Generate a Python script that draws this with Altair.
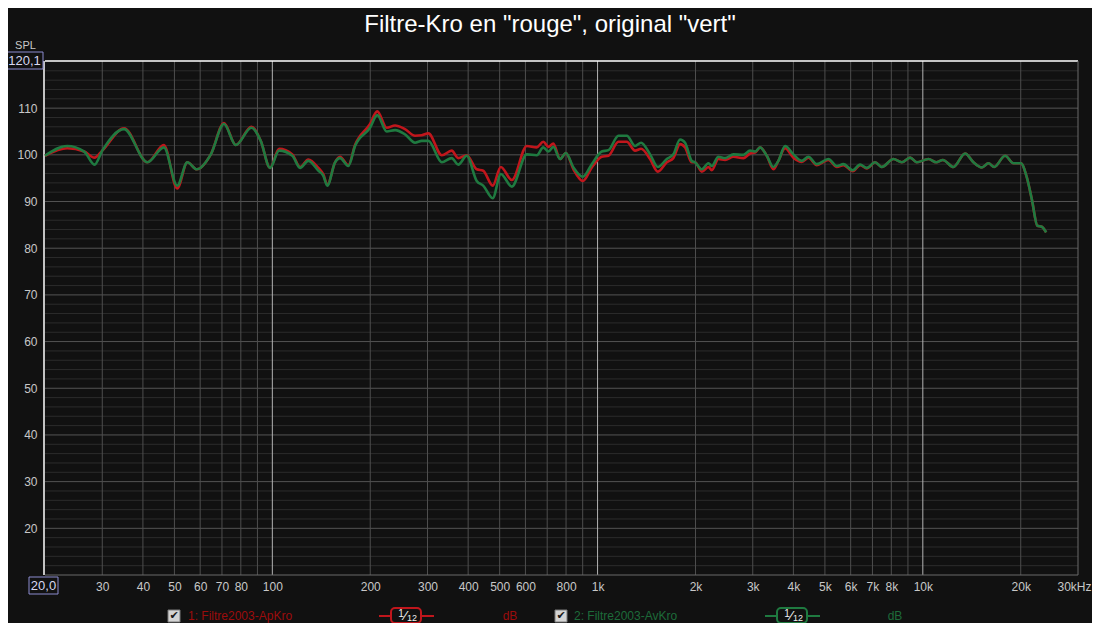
import altair as alt
import pandas as pd

# ---------------- data ----------------
freqs = [20, 23.4, 26.4, 28.4, 30.0, 35.0, 41.3, 46.4, 51.0, 54.8, 58.6, 64.7, 71.0, 77.2, 86.2, 92.1,
         98.4, 104.9, 115.2, 121.7, 129, 138.5, 143.5, 147.6, 155.9, 161.5, 171.3, 179.6, 199.7, 210.2,
         224.7, 238.4, 255.8, 274.6, 288, 301.8, 332, 356, 373, 396, 425, 445, 476, 504, 545, 606, 650,
         681, 706, 731, 767, 799, 843, 901, 960, 1030, 1080, 1159, 1230, 1304, 1361, 1450, 1532, 1632,
         1710, 1793, 1858, 1948, 1994, 2092, 2192, 2245, 2352, 2466, 2616, 2808, 2944, 3051, 3160, 3314,
         3472, 3597, 3772, 4000, 4246, 4450, 4722, 5126, 5440, 5700, 6090, 6414, 6726, 7134, 7480, 8122,
         8618, 9138, 9584, 10406, 10990, 11524, 12422, 13490, 14310, 15190, 15914, 16568, 17908, 18992,
         20014, 20878, 21632, 22506, 23220, 23940]

green_spl = [99.8, 101.9, 100.7, 97.9, 100.9, 105.5, 98.4, 101.6, 93.4, 98.4, 96.9, 100.1, 106.6, 102.1,
             105.8, 103.0, 97.2, 100.9, 99.8, 97.2, 98.7, 96.6, 95.5, 93.4, 98.4, 99.3, 97.6, 101.9, 105.8,
             108.5, 105.0, 105.3, 104.4, 102.6, 103.0, 103.0, 98.4, 99.3, 97.9, 99.8, 94.4, 93.4, 90.7,
             95.9, 93.2, 100.1, 99.9, 101.6, 100.7, 101.7, 99.1, 100.4, 97.3, 95.3, 98.0, 100.7, 101.0,
             104.1, 104.1, 101.9, 102.6, 100.1, 97.4, 99.1, 100.1, 103.3, 102.6, 98.7, 98.4, 96.9, 98.2,
             97.6, 99.6, 99.3, 100.1, 100.0, 100.9, 100.7, 101.6, 99.8, 97.4, 98.7, 101.9, 100.1, 98.7,
             99.6, 98.0, 99.1, 97.6, 98.0, 96.7, 97.9, 97.2, 98.4, 97.4, 99.1, 98.4, 99.4, 98.4, 99.1,
             98.4, 98.9, 97.4, 100.3, 98.4, 97.3, 98.2, 97.4, 99.8, 98.2, 98.2, 95.2, 90.5, 84.8, 84.6, 83.4]

red_spl = [99.8, 101.4, 100.7, 99.4, 100.9, 105.7, 98.4, 102.1, 92.8, 98.4, 96.9, 100.1, 106.8, 102.1,
           106.0, 103.0, 97.2, 101.3, 100.1, 97.4, 99.0, 97.2, 95.8, 93.6, 98.4, 99.6, 97.8, 102.1, 106.6,
           109.3, 105.8, 106.3, 105.5, 104.1, 104.2, 104.6, 99.9, 100.9, 99.3, 99.9, 96.9, 96.6, 93.4,
           97.4, 94.6, 101.9, 101.6, 102.8, 101.7, 102.4, 99.1, 100.4, 96.9, 94.4, 97.3, 99.6, 99.8,
           102.8, 102.8, 100.9, 101.3, 99.1, 96.4, 98.4, 99.3, 102.3, 101.6, 98.4, 98.4, 96.4, 97.4,
           96.7, 99.1, 98.9, 99.6, 99.3, 100.3, 100.5, 101.6, 99.8, 96.9, 98.7, 101.4, 99.4, 98.5,
           99.4, 97.8, 98.9, 97.4, 97.8, 96.5, 97.8, 97.1, 98.4, 97.4, 99.1, 98.4, 99.4, 98.4, 99.1,
           98.4, 98.9, 97.4, 100.3, 98.4, 97.3, 98.2, 97.4, 99.8, 98.2, 98.2, 95.2, 90.5, 84.8, 84.6, 83.4]

series_names = ["1: Filtre2003-ApKro", "2: Filtre2003-AvKro"]
series_colors = ["#c0161c", "#1f7a40"]
legend_text_colors = ["#9c0c0c", "#1d6b3a"]

x_tick_values = [30, 40, 50, 60, 70, 80, 100, 200, 300, 400, 500, 600, 800, 1000, 2000, 3000, 4000,
                 5000, 6000, 7000, 8000, 10000, 20000, 30000]
x_tick_labels = ["30", "40", "50", "60", "70", "80", "100", "200", "300", "400", "500", "600", "800",
                 "1k", "2k", "3k", "4k", "5k", "6k", "7k", "8k", "10k", "20k", "30kHz"]
y_tick_values = [20, 30, 40, 50, 60, 70, 80, 90, 100, 110]

x_major_grid = [100, 1000, 10000]
x_minor_grid = [30, 40, 50, 60, 70, 80, 90, 200, 300, 400, 500, 600, 700, 800, 900,
                2000, 3000, 4000, 5000, 6000, 7000, 8000, 9000, 20000]
y_major_grid = [20, 30, 40, 50, 60, 70, 80, 90, 100, 110]
y_minor_grid = [12, 14, 16, 18, 22, 24, 26, 28, 32, 34, 36, 38, 42, 44, 46, 48, 52, 54, 56, 58,
                62, 64, 66, 68, 72, 74, 76, 78, 82, 84, 86, 88, 92, 94, 96, 98, 102, 104, 106, 108,
                112, 114, 116, 118]

x_domain = [20, 30000]
y_domain = [10, 120.1]

# ---------------- frames ----------------
curves = pd.DataFrame({
    "freq": freqs * 2,
    "spl": red_spl + green_spl,
    "series": [series_names[0]] * len(freqs) + [series_names[1]] * len(freqs),
    "order": [0] * len(freqs) + [1] * len(freqs),
})
dummy = pd.DataFrame({"a": [0]})

W, H = 1033, 514
BG = "#111111"
FONT = "Liberation Sans"

xs = alt.Scale(type="log", domain=x_domain, nice=False)
ys = alt.Scale(domain=y_domain, nice=False, zero=False)

label_expr = "[" + ",".join("'%s'" % s for s in x_tick_labels) + "][indexof([" + \
    ",".join(str(v) for v in x_tick_values) + "], datum.value)]"

x_axis = alt.Axis(values=x_tick_values, labelExpr=label_expr, title=None, grid=False,
                  ticks=False, domain=False, labelColor="#c8c8c8", labelFont=FONT,
                  labelFontSize=12, labelPadding=6, labelOverlap=False, labelFlush=False,
                  labelBound=False,
                  labelOffset={"condition": {"test": "datum.value >= 30000", "value": -4}, "value": 0})
y_axis = alt.Axis(values=y_tick_values, title=None, grid=False, ticks=False, domain=False,
                  labelColor="#c8c8c8", labelFont=FONT, labelFontSize=12, labelPadding=8,
                  labelOverlap=False)


def hrules(vals, color):
    return alt.Chart(pd.DataFrame({"v": vals})).mark_rule(color=color, strokeWidth=1).encode(
        y=alt.Y("v:Q", scale=ys, axis=y_axis))


def vrules(vals, color):
    return alt.Chart(pd.DataFrame({"v": vals})).mark_rule(color=color, strokeWidth=1).encode(
        x=alt.X("v:Q", scale=xs, axis=x_axis))


grid = [
    hrules(y_minor_grid, "#2c2c2c"),
    hrules(y_major_grid, "#545454"),
    vrules(x_minor_grid, "#4e4e4e"),
    vrules(x_major_grid, "#b4b4b4"),
]

# frame borders
frame = [
    alt.Chart(dummy).mark_rule(color="#ffffff", strokeWidth=1.5).encode(
        x=alt.value(0), x2=alt.value(W), y=alt.value(0)),
    alt.Chart(dummy).mark_rule(color="#ffffff", strokeWidth=1.5).encode(
        x=alt.value(-1), y=alt.value(0), y2=alt.value(H)),
    alt.Chart(dummy).mark_rule(color="#6a6a6a", strokeWidth=1).encode(
        x=alt.value(W), y=alt.value(0), y2=alt.value(H)),
    alt.Chart(dummy).mark_rule(color="#6a6a6a", strokeWidth=1).encode(
        x=alt.value(0), x2=alt.value(W), y=alt.value(H)),
]

lines = alt.Chart(curves).mark_line(strokeWidth=2.6, interpolate="monotone").encode(
    x=alt.X("freq:Q", scale=xs, axis=x_axis),
    y=alt.Y("spl:Q", scale=ys, axis=y_axis),
    color=alt.Color("series:N", scale=alt.Scale(domain=series_names, range=series_colors), legend=None),
    detail="series:N",
    order="order:Q",
)


def txt(text, x, y, color="#c8c8c8", size=12, align="center", baseline="middle", font=FONT):
    return alt.Chart(dummy).mark_text(text=text, color=color, fontSize=size, align=align,
                                      baseline=baseline, font=font).encode(
        x=alt.value(x), y=alt.value(y))


def box(x1, x2, y1, y2, fill, stroke, sw=1, radius=0):
    return alt.Chart(dummy).mark_rect(fill=fill, stroke=stroke, strokeWidth=sw,
                                      cornerRadius=radius).encode(
        x=alt.value(x1), x2=alt.value(x2), y=alt.value(y1), y2=alt.value(y2))


def seg(x1, x2, y, color):
    return alt.Chart(dummy).mark_rule(color=color, strokeWidth=2).encode(
        x=alt.value(x1), x2=alt.value(x2), y=alt.value(y))


deco = [
    # title
    txt('Filtre-Kro en "rouge", original "vert"', 505, -36, color="#ffffff", size=24),
    # SPL and axis limits
    txt("SPL", -19.5, -15, size=11),
    box(-39, -2, -9, 8, BG, "#8c8cd0"),
    txt("120,1", -20.5, 0, size=13, color="#d8d8f0"),
    box(-16, 13, 516, 533, BG, "#8c8cd0"),
    txt("20,0", -1.5, 525, size=13, color="#d8d8f0"),
]

legend_y = 555
leg = []
for i, (cb_x, name_x, ln_x, db_x) in enumerate([(123, 143, 334, 465), (510, 529, 720, 850)]):
    c = series_colors[i]
    tc = legend_text_colors[i]
    leg += [
        box(cb_x, cb_x + 12, legend_y - 6, legend_y + 6, "#d4d4d4", "#7a7a7a"),
        txt("\u2714", cb_x + 6, legend_y, color="#1a1a1a", size=11, font="DejaVu Sans"),
        txt(series_names[i], name_x, legend_y, color=tc, size=12, align="left"),
        seg(ln_x, ln_x + 55, legend_y, c),
        box(ln_x + 12, ln_x + 42, legend_y - 8, legend_y + 7, BG, c, sw=2, radius=4),
        txt("1", ln_x + 22, legend_y - 2, color="#f0f0f0", size=10),
        txt("\u2044", ln_x + 26, legend_y, color="#f0f0f0", size=13, font="DejaVu Sans"),
        txt("12", ln_x + 33, legend_y + 2, color="#f0f0f0", size=9),
        txt("dB", db_x, legend_y, color=tc, size=12),
    ]

chart = alt.layer(*grid, *frame, lines, *deco, *leg).properties(
    width=W, height=H, background=BG,
    padding={"left": 37, "top": 53, "right": 14, "bottom": 48},
    autosize=alt.AutoSizeParams(type="none"),
).configure_view(strokeWidth=0)

chart.save("out.html", embed_options={"renderer": "svg", "actions": False})
